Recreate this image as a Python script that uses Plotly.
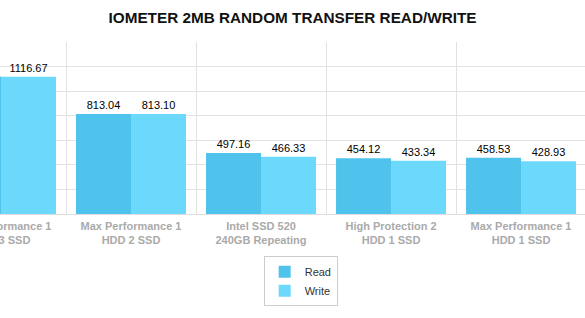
import plotly.graph_objects as go

categories = [
    "Max Performance 1<br>HDD 3 SSD",
    "Max Performance 1<br>HDD 2 SSD",
    "Intel SSD 520<br>240GB Repeating",
    "High Protection 2<br>HDD 1 SSD",
    "Max Performance 1<br>HDD 1 SSD",
]
read_values = [1120.00, 813.04, 497.16, 454.12, 458.53]
write_values = [1116.67, 813.10, 466.33, 433.34, 428.93]

READ_COLOR = "#4fc3ec"
WRITE_COLOR = "#6cd9fc"
LABEL_FONT = dict(family="Liberation Sans, Arial", size=11, color="#000")

fig = go.Figure()
fig.add_trace(go.Bar(
    name="Read", x=categories, y=read_values,
    marker=dict(color=READ_COLOR, line=dict(width=0)),
    text=[f"{v:.2f}" for v in read_values], textposition="outside",
    textfont=LABEL_FONT, cliponaxis=True,
))
fig.add_trace(go.Bar(
    name="Write", x=categories, y=write_values,
    marker=dict(color=WRITE_COLOR, line=dict(width=0)),
    text=[f"{v:.2f}" for v in write_values], textposition="outside",
    textfont=LABEL_FONT, cliponaxis=True,
))

fig.update_layout(
    width=585, height=318,
    margin=dict(l=0, r=0, t=42, b=104, autoexpand=False),
    paper_bgcolor="white", plot_bgcolor="white",
    barmode="group", bargap=0.154, bargroupgap=0,
    title=dict(text="<b>IOMETER 2MB RANDOM TRANSFER READ/WRITE</b>",
               x=0.5, xanchor="center", y=0.943, yanchor="middle",
               font=dict(family="Liberation Sans, Arial", size=15.3, color="#111")),
    legend=dict(
        orientation="v", x=0.514, xanchor="center", y=-0.245, yanchor="top",
        bordercolor="#cccccc", borderwidth=1, bgcolor="white",
        font=dict(family="Liberation Sans, Arial", size=11, color="#333"),
        tracegroupgap=0,
    ),
    xaxis=dict(
        type="category", range=[-0.0077, 4.492], autorange=False,
        automargin=False, ticklabelstandoff=4,
        tickson="boundaries", showgrid=True, gridcolor="#e2e2e2", gridwidth=1,
        ticks="", showline=False, zeroline=False,
        tickfont=dict(family="Liberation Sans, Arial", size=11, color="#aaaaaa",
                      weight="bold"),
    ),
    yaxis=dict(
        range=[0, 1400], autorange=False, automargin=False, dtick=200,
        showgrid=True, gridcolor="#e2e2e2",
        gridwidth=1, zeroline=True, zerolinecolor="#dddddd", zerolinewidth=1,
        showticklabels=False, ticks="", showline=False,
    ),
)

fig.write_html("out.html")
